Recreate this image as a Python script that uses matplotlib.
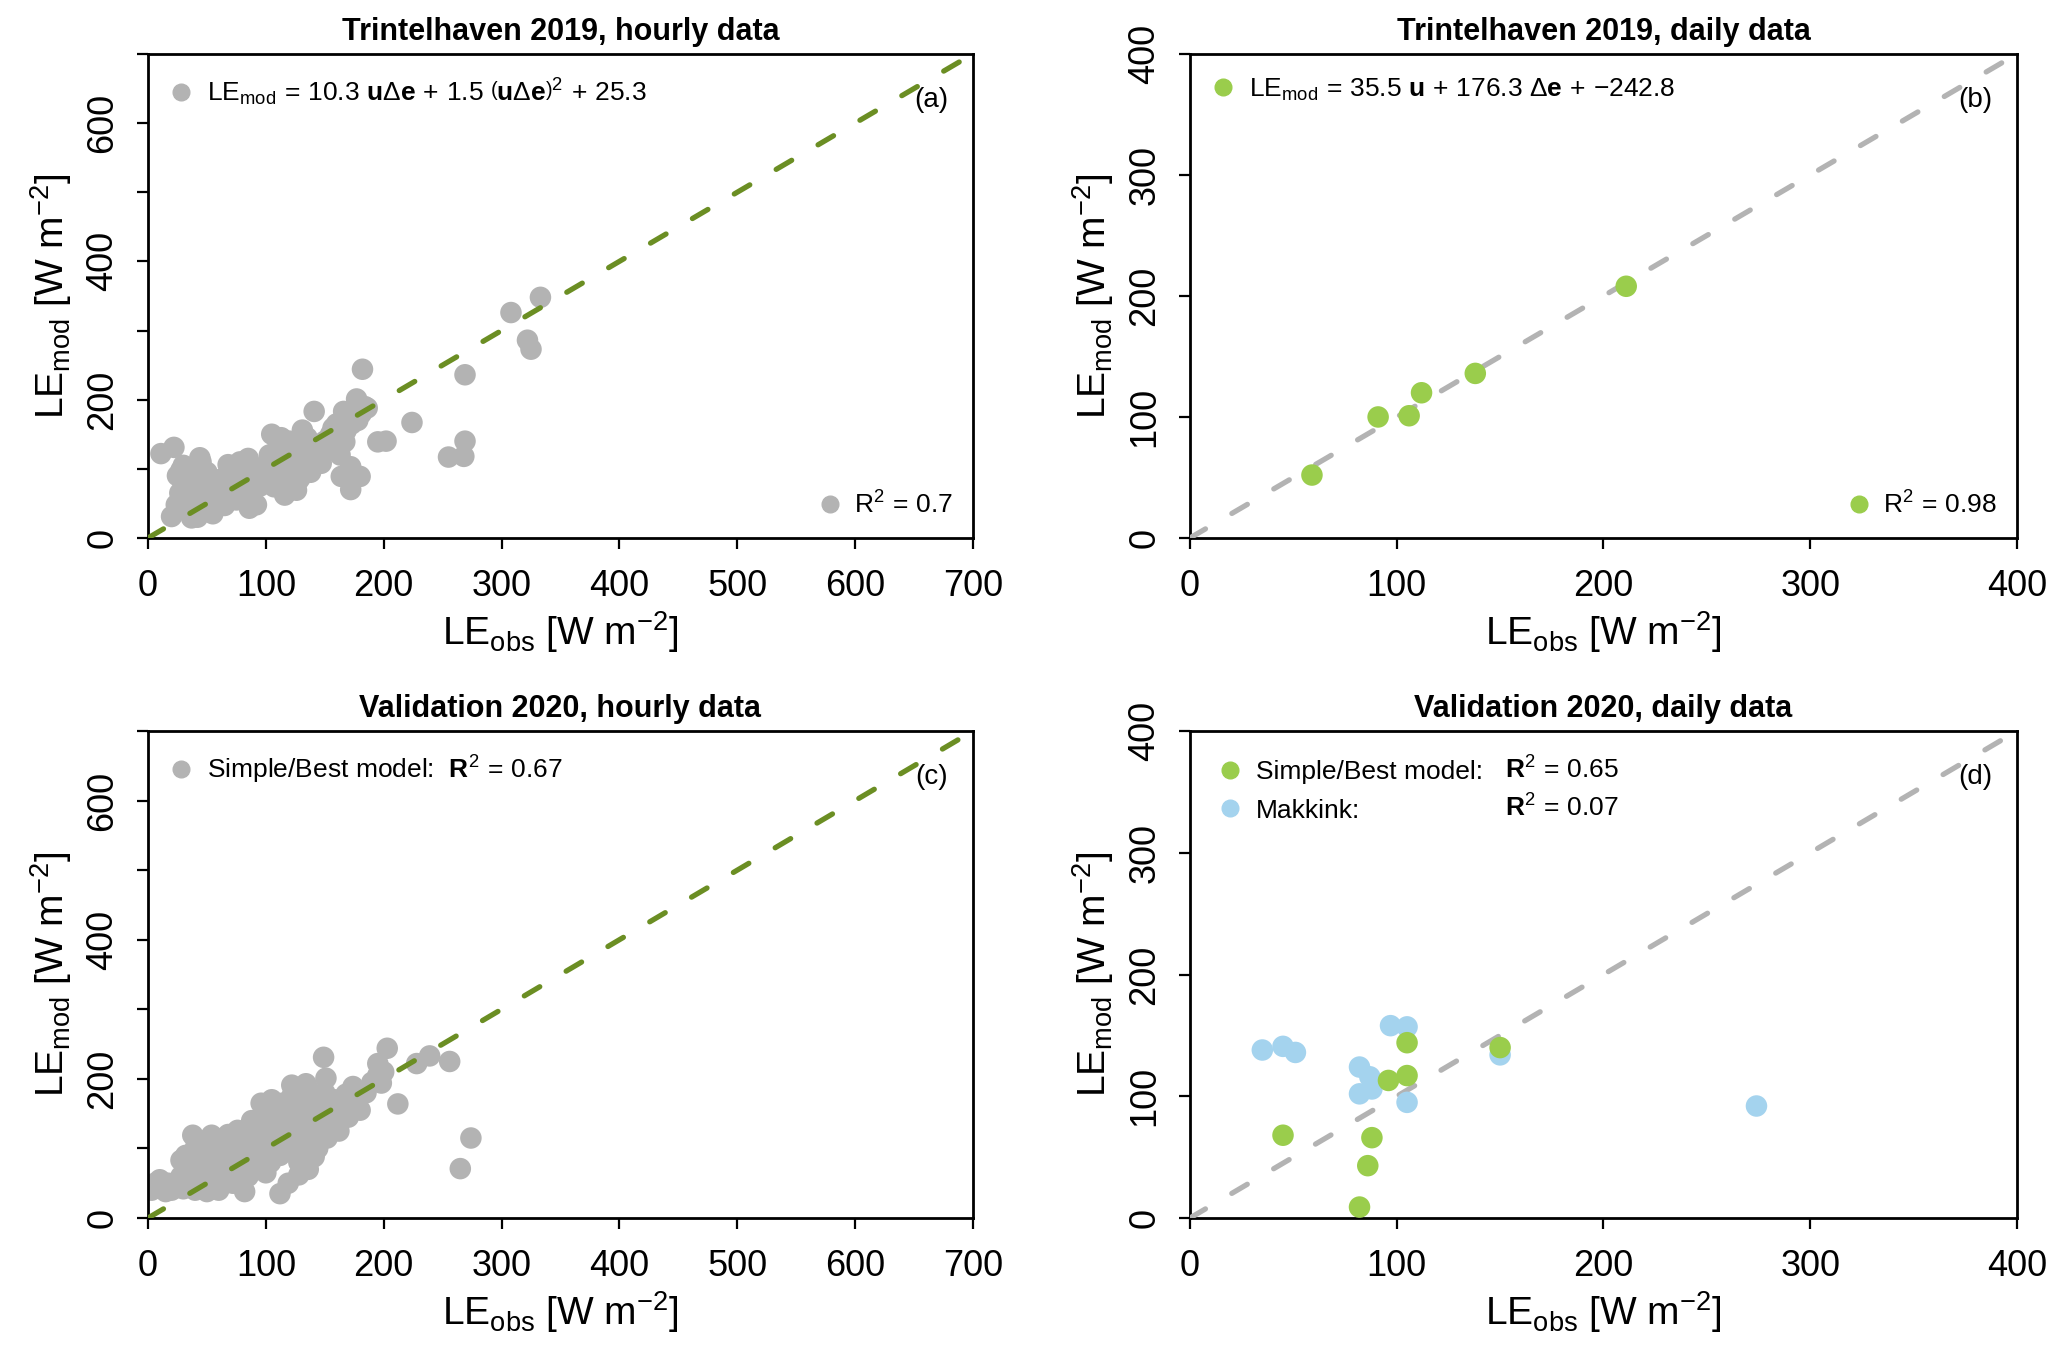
import numpy as np
import matplotlib
matplotlib.use("Agg")
import matplotlib.pyplot as plt
from matplotlib.lines import Line2D

plt.rcParams["font.family"] = ["Liberation Sans", "DejaVu Sans"]
plt.rcParams["mathtext.fontset"] = "custom"
plt.rcParams["mathtext.rm"] = "Liberation Sans"
plt.rcParams["mathtext.it"] = "Liberation Sans:italic"
plt.rcParams["mathtext.bf"] = "Liberation Sans:bold"
plt.rcParams["mathtext.sf"] = "Liberation Sans"

# --- data ---
# (a) Trintelhaven 2019, hourly
hourly19_obs = [182, 308, 333, 322, 325, 269, 224, 195, 202, 269, 255, 268, 141, 177, 184, 166,
                105, 131, 11, 22, 44, 28, 172, 164, 180, 172, 147, 167, 157, 86, 116, 126, 20, 37,
                68, 76, 65, 85, 99, 107, 130, 141, 119, 127,
                25, 30, 33, 35, 38, 40, 42, 45, 48, 50, 52, 55, 58, 30, 45, 36, 60, 62, 55, 42, 24, 32, 27,
                70, 72, 75, 80, 82, 88, 90, 95, 78, 66, 92, 84,
                103, 105, 108, 110, 112, 115, 118, 120, 122, 125, 128, 132, 135, 138, 140, 145, 148, 150,
                113, 102, 117, 128, 134, 109,
                155, 158, 160, 162, 168, 170, 173, 176, 178, 181, 186, 153, 163]
hourly19_mod = [244, 326, 348, 286, 273, 236, 167, 139, 140, 140, 117, 118, 183, 201, 190, 183,
                150, 156, 122, 131, 116, 98, 103, 89, 89, 70, 108, 139, 159, 43, 62, 69, 31, 29,
                106, 80, 47, 115, 89, 74, 89, 108, 118, 132,
                90, 75, 60, 45, 100, 85, 70, 55, 40, 95, 78, 62, 50, 105, 110, 38, 70, 85, 35, 30, 48, 82, 65,
                100, 65, 55, 90, 70, 60, 100, 75, 110, 88, 48, 80,
                120, 100, 90, 130, 80, 105, 95, 140, 75, 110, 100, 120, 145, 95, 130, 115, 125, 140,
                145, 110, 65, 84, 104, 95,
                150, 130, 165, 145, 155, 175, 165, 185, 170, 180, 188, 128, 120]

# (b) Trintelhaven 2019, daily
daily19_obs = [59, 91, 106, 112, 138, 211]
daily19_mod = [52, 100, 101, 120, 136, 208]

# (c) Validation 2020, hourly
hourly20_obs = [149, 203, 195, 228, 239, 256, 212, 274, 265, 151, 198, 174, 122, 134, 96, 105, 38, 54,
                76, 141, 119, 112, 82, 6, 17, 28, 156,
                3, 8, 12, 15, 20, 25, 10, 22, 30, 35, 40, 45, 50, 55, 60, 28, 38,
                32, 35, 40, 42, 45, 48, 50, 55, 58, 60, 62, 65, 68, 70, 72, 75, 78, 80, 85, 88, 90, 92, 95,
                98, 100, 102, 104, 106, 108, 110, 112, 114, 116, 118, 120, 122, 124, 126, 128, 130, 132,
                134, 136, 138, 140, 142, 144, 146, 148, 150, 152, 155, 158, 160, 162, 165, 168, 170, 172,
                175, 178, 180, 185, 190, 195, 200, 88, 92, 96, 100, 128, 136]
hourly20_mod = [231, 244, 222, 222, 233, 225, 164, 115, 71, 201, 194, 189, 191, 193, 165, 170, 119, 119,
                126, 88, 50, 35, 38, 50, 50, 83, 146,
                40, 45, 42, 38, 40, 45, 55, 50, 42, 48, 40, 45, 38, 42, 40, 60, 55,
                90, 75, 100, 65, 85, 110, 70, 95, 55, 80, 105, 65, 120, 90, 50, 110, 75, 95, 60, 115, 85, 130, 70,
                145, 100, 120, 80, 155, 135, 110, 90, 165, 125, 145, 100, 175, 115, 155, 80, 135, 165,
                105, 185, 125, 150, 170, 100, 130, 160, 180, 115, 140, 170, 150, 125, 160, 178, 145, 165,
                185, 170, 155, 180, 195, 205, 210, 140, 105, 120, 65, 62, 70]

# (d) Validation 2020, daily
daily20_obs_best = [45, 88, 86, 82, 96, 105, 105, 150]
daily20_mod_best = [68, 66, 43, 9, 113, 117, 144, 140]
daily20_obs_makkink = [35, 45, 51, 97, 105, 82, 87, 88, 82, 105, 150, 274]
daily20_mod_makkink = [138, 141, 136, 158, 157, 124, 116, 106, 102, 95, 134, 92]

GREY = "#b3b3b3"
OLIVE = "#6b8e23"
LGREEN = "#9acd4c"
LBLUE = "#a4d3ee"

XLAB = r"$\mathrm{LE}_{\mathrm{obs}}\ [\mathrm{W\ m}^{-2}]$"
YLAB = r"$\mathrm{LE}_{\mathrm{mod}}\ [\mathrm{W\ m}^{-2}]$"
LFS = 19  # legend text size

fig = plt.figure(figsize=(20.67, 13.52), dpi=100)
ax_a = fig.add_axes([0.0716, 0.6021, 0.3991, 0.3580])
ax_b = fig.add_axes([0.5757, 0.6021, 0.4001, 0.3580])
ax_c = fig.add_axes([0.0716, 0.0991, 0.3991, 0.3602])
ax_d = fig.add_axes([0.5757, 0.0991, 0.4001, 0.3602])

MS = 240


def style(ax, lim, title):
    ax.set_xlim(0, lim)
    ax.set_ylim(0, lim)
    ticks = np.arange(0, lim + 1, 100)
    ax.set_xticks(ticks)
    ax.set_xticklabels([str(t) for t in ticks])
    ax.set_yticks(ticks)
    if lim > 400:
        ax.set_yticklabels([str(t) if t % 200 == 0 else "" for t in ticks])
    else:
        ax.set_yticklabels([str(t) for t in ticks])
    for lab in ax.get_yticklabels():
        lab.set_rotation(90)
        lab.set_va("center")
    ax.tick_params(axis="x", length=8, width=1.6, labelsize=26, pad=14)
    ax.tick_params(axis="y", length=8, width=1.6, labelsize=26, pad=12)
    for s in ax.spines.values():
        s.set_linewidth(2.0)
    ax.set_xlabel(XLAB, fontsize=28, labelpad=4)
    ax.set_ylabel(YLAB, fontsize=28, labelpad=8)
    ax.set_title(title, fontsize=22, fontweight="bold", pad=10)


def one_to_one(ax, color):
    ax.axline((0, 0), slope=1, color=color, lw=3.8, dashes=(3.4, 5.8),
              dash_capstyle="round", zorder=3)


def handle(color):
    return Line2D([], [], ls="none", marker="o", ms=12, mfc=color, mec=color)


def panel_tag(ax, tag):
    ax.text(0.97, 0.905, tag, transform=ax.transAxes, ha="right", va="center", fontsize=20)


def top_legend(ax, handles, labels, pad=0.45, **kw):
    return ax.legend(handles, labels, loc="upper left", frameon=False, fontsize=LFS,
                     handlelength=0.8, handletextpad=0.6, borderaxespad=pad, **kw)


def r2_legend(ax, color, label):
    ax.legend([handle(color)], [label], loc="lower right", frameon=False, fontsize=LFS,
              handlelength=0.8, handletextpad=0.5, borderaxespad=0.35)


# (a)
ax_a.scatter(hourly19_obs, hourly19_mod, s=MS, color=GREY, edgecolors="none", zorder=2)
one_to_one(ax_a, OLIVE)
style(ax_a, 700, "Trintelhaven 2019, hourly data")
leg = top_legend(ax_a, [handle(GREY)],
                 [r"$\mathrm{LE}_{\mathrm{mod}}\,=\,10.3\ \mathbf{u}\Delta\mathbf{e}\,+\,1.5\ "
                  r"\left(\mathbf{u}\Delta\mathbf{e}\right)^{2}\,+\,25.3$"])
ax_a.add_artist(leg)
r2_legend(ax_a, GREY, r"$\mathrm{R}^{2}\,=\,0.7$")
panel_tag(ax_a, "(a)")

# (b)
ax_b.scatter(daily19_obs, daily19_mod, s=MS, color=LGREEN, edgecolors="none", zorder=4)
one_to_one(ax_b, GREY)
style(ax_b, 400, "Trintelhaven 2019, daily data")
leg = top_legend(ax_b, [handle(LGREEN)],
                 [r"$\mathrm{LE}_{\mathrm{mod}}\,=\,35.5\ \mathbf{u}\,+\,176.3\ \Delta\mathbf{e}\,+\,{-}242.8$"])
ax_b.add_artist(leg)
r2_legend(ax_b, LGREEN, r"$\mathrm{R}^{2}\,=\,0.98$")
panel_tag(ax_b, "(b)")

# (c)
ax_c.scatter(hourly20_obs, hourly20_mod, s=MS, color=GREY, edgecolors="none", zorder=2)
one_to_one(ax_c, OLIVE)
style(ax_c, 700, "Validation 2020, hourly data")
top_legend(ax_c, [handle(GREY)], [r"Simple/Best model:  $\mathbf{R}^{2}\,=\,0.67$"])
panel_tag(ax_c, "(c)")

# (d)
ax_d.scatter(daily20_obs_makkink, daily20_mod_makkink, s=MS, color=LBLUE, edgecolors="none", zorder=4)
ax_d.scatter(daily20_obs_best, daily20_mod_best, s=MS, color=LGREEN, edgecolors="none", zorder=5)
one_to_one(ax_d, GREY)
style(ax_d, 400, "Validation 2020, daily data")
leg_d = top_legend(ax_d, [handle(LGREEN), handle(LBLUE)], ["Simple/Best model:", "Makkink:"],
                   pad=0.7, labelspacing=0.55)
panel_tag(ax_d, "(d)")

# R^2 column in (d), put on the same baseline as the legend rows
fig.canvas.draw()
inv = ax_d.transAxes.inverted()
descent = 0.21 * LFS * fig.dpi / 72.0
for txt, r2 in zip(leg_d.get_texts(), [r"$\mathbf{R}^{2}\,=\,0.65$", r"$\mathbf{R}^{2}\,=\,0.07$"]):
    bb = txt.get_window_extent()
    _, y_ax = inv.transform((bb.x0, bb.y0 + descent))
    ax_d.text(0.381, y_ax, r2, transform=ax_d.transAxes, ha="left", va="baseline", fontsize=LFS)

fig.savefig("out.png", dpi=100)
